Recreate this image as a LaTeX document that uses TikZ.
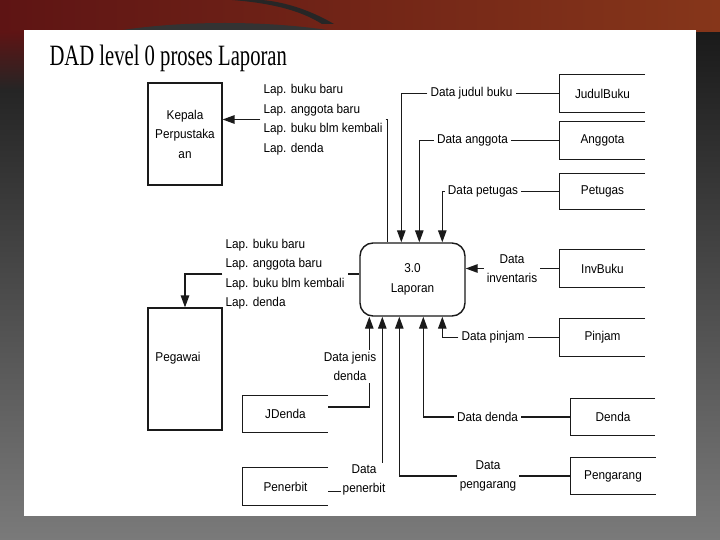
\documentclass[tikz,border=0pt]{standalone}
\usepackage{fontspec}
\setmainfont{Liberation Sans}
\newfontfamily\titlefont[FakeStretch=0.7]{Liberation Serif}
\newfontfamily\dadfont[FakeStretch=0.92]{Liberation Sans}
\usetikzlibrary{arrows.meta, positioning, calc}
\definecolor{slideTop}{HTML}{141414}
\definecolor{slideBottom}{HTML}{7A7A7A}
\definecolor{stripEnd}{HTML}{252525}
\definecolor{swooshRed}{HTML}{5E1414}
\definecolor{swooshOrange}{HTML}{86361A}
\definecolor{lineGray}{HTML}{1A1A1A}

\begin{document}
\begin{tikzpicture}[
    x=1pt, y=-1pt,
    >={Triangle[length=12pt,width=8.5pt]},
    every node/.style={font=\dadfont\fontsize{12.8}{19.5}\selectfont, text=black},
    entity/.style={draw=lineGray, line width=1.2pt, fill=white, minimum width=74pt, align=center, inner sep=0pt},
    store/.style={minimum width=85pt, minimum height=37pt, inner sep=0pt},
    proc/.style={draw=lineGray, line width=1.4pt, rounded corners=13pt, minimum width=105pt, minimum height=73pt, align=center},
    flow/.style={draw=lineGray, line width=1.25pt},
    lbl/.style={inner sep=3pt, align=left},
    clbl/.style={inner sep=2pt, align=center, fill=white}
]
    % slide background
    \useasboundingbox (0,0) rectangle (720,540);
    \shade[top color=slideTop, bottom color=slideBottom] (0,0) rectangle (720,540);
    \shade[left color=swooshRed, right color=swooshOrange] (0,0) rectangle (720,32);
    \shade[top color=swooshRed, bottom color=stripEnd] (0,32) rectangle (24,90);
    \fill[black!80] (110,32) .. controls (180,20) and (270,20) .. (340,32) -- cycle;
    \fill[black!85] (232,0) .. controls (270,3) and (300,10) .. (322,24) -- (334,24) .. controls (310,10) and (285,2) .. (262,0) -- cycle;
    \fill[white] (24,30) rectangle (696,516);

    \node[anchor=base west, font=\titlefont\fontsize{29.5}{30}\selectfont] (title) at (46,66) {DAD level 0 proses Laporan};

    % external entities
    \node[entity, minimum height=102pt] (kepala) at (185,134) {Kepala\\Perpustaka\\an};
    \node[entity, minimum height=122pt, label={[shift={(-7,-11)}]center:Pegawai}] (pegawai) at (185,369) {};

    % process
    \node[proc] (proc) at (412.5,279.5) {3.0\\Laporan};

    % data stores
    \node[store] (judul) at (602.5,93.5) {JudulBuku};
    \node[store] (anggota) at (602.5,140.5) {Anggota};
    \node[store, minimum height=35pt] (petugas) at (602.5,191.5) {Petugas};
    \node[store] (inv) at (602.5,268.5) {InvBuku};
    \node[store] (pinjam) at (602.5,337.5) {Pinjam};
    \node[store, minimum width=84pt] (denda) at (613,417) {Denda};
    \node[store] (pengarang) at (613,476) {Pengarang};
    \node[store] (jdenda) at (285.5,414) {JDenda};
    \node[store] (penerbit) at (285.5,486.5) {Penerbit};
    \foreach \s in {judul,anggota,petugas,inv,pinjam,denda,pengarang,jdenda,penerbit}
        \draw[flow] (\s.north east) -- (\s.north west) -- (\s.south west) -- (\s.south east);

    % ports on the process
    \coordinate (tKep) at ($(proc.north west)+(28,0)$);
    \coordinate (tJud) at ($(proc.north west)+(42,0)$);
    \coordinate (tAng) at ($(proc.north west)+(60,0)$);
    \coordinate (tPet) at ($(proc.north west)+(83,0)$);
    \coordinate (bJen) at ($(proc.south west)+(10,0)$);
    \coordinate (bPen) at ($(proc.south west)+(23,0)$);
    \coordinate (bPeng) at ($(proc.south west)+(40,0)$);
    \coordinate (bDen) at ($(proc.south west)+(64,0)$);
    \coordinate (bPin) at ($(proc.south west)+(83,0)$);

    % flow labels
    \node[lbl] (lapK) at (323,119.5) {Lap. buku baru\\Lap. anggota baru\\Lap. buku blm kembali\\Lap. denda};
    \node[lbl] (lapP) at (285,274) {Lap. buku baru\\Lap. anggota baru\\Lap. buku blm kembali\\Lap. denda};
    \node[lbl] (lJud) at (471.5,93.5) {Data judul buku};
    \node[lbl] (lAng) at (472.5,140.5) {Data anggota};
    \node[lbl] (lPet) at (483,191.5) {Data petugas};
    \node[lbl, align=center] (lInv) at (512,268.5) {Data\\inventaris};
    \node[lbl] (lPin) at (493,337.5) {Data pinjam};
    \node[lbl] (lDen) at (487.5,417) {Data denda};
    \node[lbl, align=center] (lPeng) at (488,476) {Data\\pengarang};

    % flows out of the process
    \draw[flow] (lapK.east) -| (tKep);
    \draw[flow, ->] (lapK.west) -- (lapK.west -| kepala.east);
    \draw[flow] (proc.west |- lapP.east) -- (lapP.east);
    \draw[flow, ->] (lapP.west) -| (pegawai.north);

    % flows into the process
    \draw[flow] (judul.west) -- (lJud.east);
    \draw[flow, ->] (lJud.west) -| (tJud);
    \draw[flow] (anggota.west) -- (lAng.east);
    \draw[flow, ->] (lAng.west) -| (tAng);
    \draw[flow] (petugas.west) -- (lPet.east);
    \draw[flow, ->] (lPet.west) -| (tPet);
    \draw[flow] (inv.west) -- (lInv.east);
    \draw[flow, ->] (lInv.west) -- (lInv.west -| proc.east);
    \draw[flow] (pinjam.west) -- (lPin.east);
    \draw[flow, ->] (lPin.west) -| (bPin);
    \draw[flow] (denda.west) -- (lDen.east);
    \draw[flow, ->] (lDen.west) -| (bDen);
    \draw[flow] (pengarang.west) -- (lPeng.east);
    \draw[flow, ->] (lPeng.west) -| (bPeng);
    \draw[flow, ->] ([yshift=7pt]jdenda.east) -| (bJen);
    \node[clbl] (lJen) at (350,366.5) {Data jenis\\denda};
    \draw[flow, ->] ([yshift=-5pt]penerbit.east) -| (bPen);
    \node[clbl] (lPen) at (364,480) {Data\\penerbit};
\end{tikzpicture}
\end{document}
